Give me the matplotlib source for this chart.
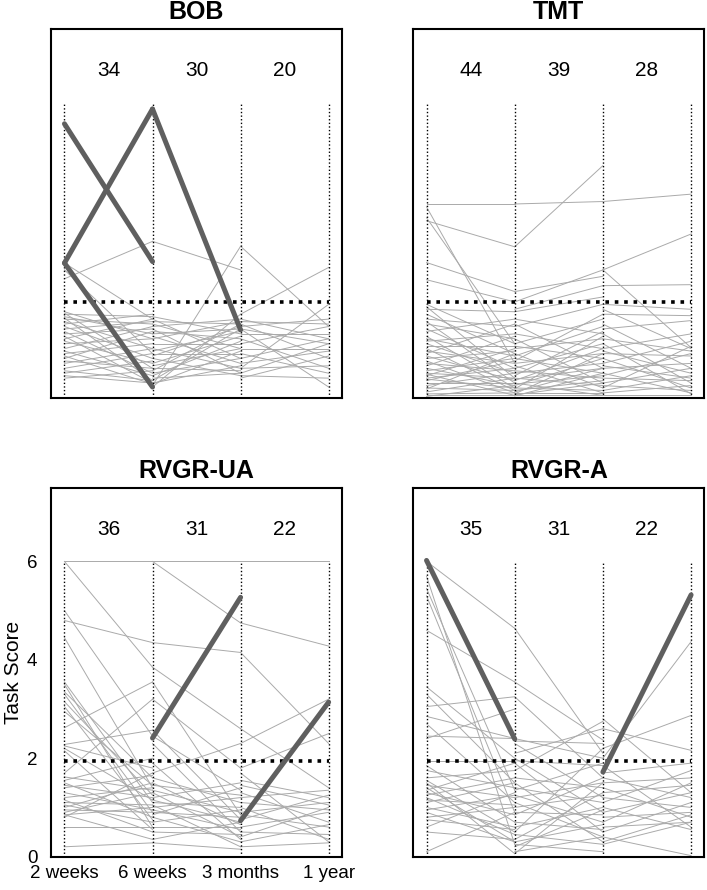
"""
Task score change across follow-up visits, one panel per task.
Thin grey segments = individual subjects, thick = large changers.
"""
import matplotlib
matplotlib.use("Agg")
import matplotlib.pyplot as plt

plt.rcParams['font.family'] = ['Liberation Sans', 'DejaVu Sans']

TIMEPOINTS = ['2 weeks', '6 weeks', '3 months', '1 year']
THRESHOLD = 1.95

# number of subjects per interval (printed on top)
bob_counts = [34, 30, 20]
tmt_counts = [44, 39, 28]
ua_counts = [36, 31, 22]
a_counts = [35, 31, 22]

# ---- BOB: (start, end) per interval ----
bob_int1 = [(2.42, 3.18), (2.74, 1.6), (2.6, 0.9), (1.75, 1.2), (1.72, 0.6), (1.7, 1.65),
            (1.65, 1.3), (1.62, 0.35), (1.6, 1.5), (1.55, 1.0), (1.5, 1.7), (1.45, 0.8),
            (1.4, 1.55), (1.35, 0.5), (1.3, 1.4), (1.25, 0.3), (1.2, 1.6), (1.15, 0.7),
            (1.1, 1.2), (1.0, 1.45), (0.95, 0.45), (0.9, 1.1), (0.85, 0.28), (0.8, 1.35),
            (0.75, 0.6), (0.7, 1.0), (0.6, 0.9), (0.55, 0.35), (0.5, 0.75), (0.45, 0.3),
            (0.4, 0.55)]
bob_int2 = [(3.18, 2.6), (0.25, 3.08), (1.65, 1.3), (1.6, 0.8), (1.55, 1.5), (1.5, 1.0),
            (1.45, 1.6), (1.4, 0.5), (1.35, 1.2), (1.3, 1.4), (1.25, 0.7), (1.2, 1.55),
            (1.1, 1.1), (1.0, 0.6), (0.95, 1.35), (0.9, 0.9), (0.85, 1.45), (0.8, 0.45),
            (0.7, 1.25), (0.65, 1.0), (0.6, 0.55), (0.55, 1.5), (0.5, 0.8), (0.45, 1.15),
            (0.4, 0.5), (0.35, 1.4), (0.3, 0.65), (0.28, 0.95), (0.22, 1.7)]
bob_int3 = [(3.08, 1.45), (1.4, 0.22), (1.7, 2.65), (0.6, 1.9), (1.6, 1.2), (1.55, 1.5),
            (1.5, 0.8), (1.45, 1.6), (1.4, 1.1), (1.3, 1.3), (1.2, 0.6), (1.1, 1.45),
            (1.0, 1.0), (0.9, 0.5), (0.8, 1.2), (0.7, 0.95), (0.6, 0.65), (0.5, 1.1),
            (0.45, 0.4), (0.4, 0.85)]
bob_thick = [[(5.57, 2.77), (2.74, 5.87), (2.74, 0.22)], [(5.87, 1.38)], []]

# ---- TMT ----
tmt_int1 = [(3.94, 3.94), (3.88, 0.7), (3.66, 1.1), (3.6, 3.07), (2.75, 2.16), (2.4, 1.95),
            (1.9, 1.1), (1.85, 0.4), (1.8, 1.75), (1.7, 0.9), (1.6, 1.45), (1.55, 0.3),
            (1.5, 1.2), (1.4, 0.6), (1.35, 1.6), (1.25, 0.2), (1.2, 0.85), (1.15, 1.3),
            (1.1, 0.5), (1.05, 1.05), (1.0, 0.15), (0.95, 0.7), (0.9, 1.5), (0.85, 0.35),
            (0.8, 0.95), (0.75, 0.1), (0.7, 0.55), (0.65, 1.25), (0.6, 0.25), (0.55, 0.8),
            (0.5, 0.4), (0.48, 0.05), (0.45, 1.0), (0.4, 0.6), (0.38, 0.2), (0.35, 0.75),
            (0.3, 0.3), (0.25, 0.5), (0.2, 0.15), (0.18, 0.9), (0.12, 0.4), (0.08, 0.1),
            (0.05, 0.05), (0.03, 0.25)]
tmt_int2 = [(3.94, 3.99), (3.07, 4.72), (2.16, 2.47), (1.95, 2.6), (1.8, 2.28),
            (1.75, 2.05), (1.6, 1.3), (1.5, 0.6), (1.45, 1.9), (1.3, 1.0), (1.2, 0.3),
            (1.1, 1.6), (1.05, 0.8), (1.0, 1.2), (0.9, 0.2), (0.85, 1.45), (0.8, 0.5),
            (0.75, 1.7), (0.7, 0.9), (0.65, 0.1), (0.6, 1.1), (0.55, 0.4), (0.5, 0.7),
            (0.45, 1.35), (0.4, 0.25), (0.38, 0.6), (0.35, 1.0), (0.3, 0.05), (0.28, 0.45),
            (0.25, 0.8), (0.2, 0.15), (0.18, 1.25), (0.15, 0.35), (0.12, 0.6), (0.1, 0.1),
            (0.08, 0.9), (0.06, 0.3), (0.05, 0.05), (0.04, 0.5)]
tmt_int3 = [(3.99, 4.14), (2.6, 3.33), (2.6, 1.02), (2.28, 2.3), (1.9, 1.8), (1.8, 1.0),
            (1.7, 1.67), (1.5, 0.6), (1.4, 1.57), (1.3, 0.3), (1.2, 0.95), (1.1, 0.08),
            (1.0, 1.3), (0.95, 0.5), (0.9, 0.85), (0.8, 0.2), (0.7, 1.15), (0.65, 0.4),
            (0.6, 0.7), (0.5, 0.1), (0.45, 0.9), (0.4, 0.35), (0.3, 0.6), (0.25, 0.15),
            (0.2, 1.05), (0.15, 0.45), (0.1, 0.25), (0.05, 0.05)]
tmt_thick = [[], [], []]

# ---- RVGR-UA ----
ua_int1 = [(6.0, 6.0), (6.0, 3.85), (5.0, 2.45), (4.8, 4.35), (4.45, 1.4), (3.55, 1.1),
           (3.5, 0.6), (3.35, 1.6), (3.3, 0.9), (3.15, 1.25), (3.05, 0.75), (2.95, 1.45),
           (2.62, 3.55), (2.28, 2.57), (2.25, 1.8), (2.2, 1.15), (2.15, 0.55), (1.7, 3.2),
           (1.62, 1.35), (1.55, 2.0), (1.5, 0.8), (1.45, 1.2), (1.4, 1.65), (1.3, 0.95),
           (1.2, 1.4), (1.1, 1.05), (1.05, 0.7), (1.0, 1.5), (0.95, 0.9), (0.9, 1.3),
           (0.85, 1.0), (0.85, 0.35), (0.8, 1.7), (0.6, 0.6), (0.2, 0.28), (1.15, 0.5)]
ua_int2 = [(6.0, 6.0), (6.0, 4.75), (4.35, 4.15), (3.85, 2.6), (3.55, 0.85), (3.2, 1.8),
           (2.57, 0.75), (2.45, 1.35), (2.3, 0.5), (1.9, 0.35), (1.7, 2.3), (1.6, 1.1),
           (1.5, 0.65), (1.45, 1.25), (1.35, 0.9), (1.3, 0.4), (1.2, 1.5), (1.15, 0.7),
           (1.1, 1.0), (1.05, 0.2), (1.0, 1.2), (0.95, 0.55), (0.9, 0.8), (0.85, 1.4),
           (0.8, 0.3), (0.7, 0.95), (0.6, 0.6), (0.5, 0.45), (0.35, 0.7), (0.28, 0.15)]
ua_int3 = [(6.0, 6.0), (4.75, 4.28), (4.15, 2.3), (2.3, 3.2), (2.6, 1.4), (1.8, 2.5),
           (1.7, 0.3), (1.55, 1.2), (1.45, 1.05), (1.3, 0.7), (1.2, 1.35), (1.1, 0.95),
           (1.0, 0.35), (0.9, 1.1), (0.85, 0.6), (0.75, 1.25), (0.6, 0.9), (0.5, 0.45),
           (0.4, 1.0), (0.3, 0.65), (0.2, 0.28)]
ua_thick = [[], [(2.41, 5.27)], [(0.73, 3.14)]]

# ---- RVGR-A ----
a_int1 = [(6.0, 4.64), (5.7, 0.25), (5.45, 1.35), (5.3, 0.9), (4.6, 3.55), (3.45, 2.0),
          (3.3, 1.5), (3.05, 3.25), (2.85, 2.4), (2.7, 1.1), (2.45, 2.4), (2.4, 3.0),
          (1.95, 1.95), (1.85, 0.7), (1.75, 1.4), (1.6, 1.75), (1.55, 0.5), (1.45, 1.2),
          (1.4, 0.3), (1.35, 1.9), (1.3, 0.85), (1.25, 1.6), (1.2, 0.45), (1.15, 1.05),
          (1.1, 1.5), (1.0, 0.6), (0.95, 1.25), (0.9, 0.3), (0.8, 1.0), (0.75, 0.55),
          (0.6, 1.3), (0.5, 0.35), (0.1, 0.9), (1.5, 0.06)]
a_int2 = [(4.64, 2.1), (3.55, 2.37), (3.25, 1.6), (2.4, 2.0), (2.35, 2.3), (2.3, 1.2),
          (2.1, 2.6), (2.0, 0.9), (1.95, 1.85), (1.9, 0.5), (1.75, 2.75), (1.6, 1.4),
          (1.5, 0.3), (1.4, 1.1), (1.35, 1.9), (1.25, 0.7), (1.2, 1.5), (1.1, 0.4),
          (1.0, 1.25), (0.9, 0.85), (0.85, 1.6), (0.7, 0.55), (0.6, 1.0), (0.5, 2.2),
          (0.45, 0.25), (0.35, 1.3), (0.3, 0.65), (0.25, 0.1), (0.2, 0.95), (0.1, 0.4),
          (0.06, 1.5)]
a_int3 = [(2.0, 4.37), (2.8, 1.3), (2.6, 2.16), (2.2, 2.87), (1.85, 0.6), (1.7, 1.9),
          (1.6, 1.2), (1.5, 1.6), (1.4, 0.8), (1.3, 1.45), (1.2, 1.0), (1.1, 1.75),
          (1.0, 0.55), (0.9, 1.3), (0.8, 0.9), (0.7, 1.5), (0.6, 0.7), (0.5, 1.1),
          (0.4, 0.02), (0.3, 0.85), (0.25, 0.7)]
a_thick = [[(6.02, 2.39)], [], [(1.72, 5.32)]]


def draw_panel(ax, title, counts, intervals, thick, show_axes=False):
    """Draws one task panel: subject segments, threshold, visit lines and counts"""
    for i, segs in enumerate(intervals):  # thin subject lines
        for start, end in segs:
            ax.plot([i, i + 1], [start, end], color='#aaaaaa', lw=0.7, zorder=1)
    for x in range(len(TIMEPOINTS)):  # visit lines
        ax.plot([x, x], [0, 6], color='black', lw=1.0, ls=(0, (1, 1.6)), zorder=2)
    ax.plot([0, 3], [THRESHOLD, THRESHOLD], color='black', lw=2.6,
            ls=(0, (1, 1.6)), zorder=3)
    for i, segs in enumerate(thick):  # thick highlighted changes
        for start, end in segs:
            ax.plot([i, i + 1], [start, end], color='#5f5f5f', lw=3.6,
                    solid_capstyle='round', zorder=4)
    for i, n in enumerate(counts):
        ax.text(i + 0.5, 6.65, str(n), ha='center', va='center', fontsize=15)

    ax.set_xlim(-0.15, 3.15)
    ax.set_ylim(0, 7.5)
    ax.set_title(title, fontsize=18, fontweight='bold', pad=7)
    for sp in ax.spines.values():
        sp.set_linewidth(1.5)
    if show_axes:
        ax.set_xticks(range(len(TIMEPOINTS)))
        ax.set_xticklabels(TIMEPOINTS, fontsize=13.5)
        ax.set_yticks([0, 2, 4, 6])
        ax.tick_params(axis='both', length=0, labelsize=13.5)
        ax.tick_params(axis='y', pad=10)
        ax.tick_params(axis='x', pad=6)
        ax.set_ylabel('Task Score', fontsize=15, labelpad=3)
    else:
        ax.set_xticks([])
        ax.set_yticks([])


fig = plt.figure(figsize=(7.07, 8.90), dpi=100)
ax_bob = fig.add_axes([0.0725, 0.553, 0.411, 0.4146])
ax_tmt = fig.add_axes([0.5846, 0.553, 0.4116, 0.4146])
ax_ua = fig.add_axes([0.0725, 0.0375, 0.411, 0.4146])
ax_a = fig.add_axes([0.5846, 0.0375, 0.4116, 0.4146])

draw_panel(ax_bob, 'BOB', bob_counts, [bob_int1, bob_int2, bob_int3], bob_thick)
draw_panel(ax_tmt, 'TMT', tmt_counts, [tmt_int1, tmt_int2, tmt_int3], tmt_thick)
draw_panel(ax_ua, 'RVGR-UA', ua_counts, [ua_int1, ua_int2, ua_int3], ua_thick, show_axes=True)
draw_panel(ax_a, 'RVGR-A', a_counts, [a_int1, a_int2, a_int3], a_thick)

fig.savefig('out.png', dpi=100)
